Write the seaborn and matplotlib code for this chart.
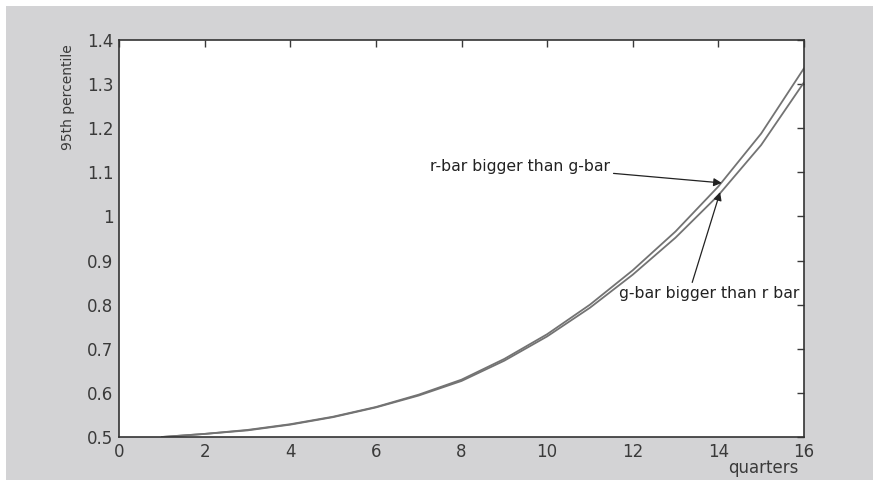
import numpy as np
import pandas as pd
import matplotlib
matplotlib.use("Agg")
import matplotlib.pyplot as plt
import seaborn as sns
from matplotlib.patches import Rectangle

quarters = [1, 2, 3, 4, 5, 6, 7, 8, 9, 10, 11, 12, 13, 14, 15, 16]
r_bar_bigger = [0.500, 0.507, 0.516, 0.529, 0.546, 0.568, 0.596, 0.630, 0.677,
                0.733, 0.800, 0.878, 0.966, 1.068, 1.188, 1.336]
g_bar_bigger = [0.500, 0.507, 0.515, 0.528, 0.545, 0.567, 0.594, 0.627, 0.673,
                0.728, 0.793, 0.868, 0.952, 1.048, 1.162, 1.304]
x_ticks = [0, 2, 4, 6, 8, 10, 12, 14, 16]
y_ticks = [0.5, 0.6, 0.7, 0.8, 0.9, 1.0, 1.1, 1.2, 1.3, 1.4]
y_tick_labels = ["0.5", "0.6", "0.7", "0.8", "0.9", "1", "1.1", "1.2", "1.3", "1.4"]

df = pd.DataFrame({
    "quarters": quarters * 2,
    "value": r_bar_bigger + g_bar_bigger,
    "series": ["r-bar bigger than g-bar"] * len(quarters) + ["g-bar bigger than r bar"] * len(quarters),
})

sns.set_style("white")
plt.rcParams["font.family"] = ["DejaVu Sans"]

W, H = 873, 483
fig = plt.figure(figsize=(W / 100, H / 100), dpi=100)
fig.patch.set_facecolor("white")
fig.patches.append(Rectangle((6 / W, 3 / H), (W - 6) / W, 474 / H,
                             transform=fig.transFigure, facecolor="#d3d3d5",
                             edgecolor="none", zorder=-10))

ax = fig.add_axes([119 / W, (H - 437) / H, (804 - 119) / W, (437 - 40) / H])
ax.set_facecolor("white")

sns.lineplot(data=df, x="quarters", y="value", hue="series",
             palette=["#737373", "#737373"], linewidth=1.3, legend=False, ax=ax)

ax.set_xlim(0, 16)
ax.set_ylim(0.5, 1.4)
ax.set_xticks(x_ticks)
ax.set_yticks(y_ticks)
ax.set_yticklabels(y_tick_labels)
ax.tick_params(direction="in", length=5, width=1, colors="#3a3a3a",
               labelsize=12, top=True, right=True, labeltop=False, labelright=False, pad=4)
for s in ax.spines.values():
    s.set_visible(True)
    s.set_color("#333333")
    s.set_linewidth(1.2)

ax.set_xlabel("quarters", fontsize=12, color="#3a3a3a")
ax.xaxis.set_label_coords(0.94, -0.055)
ax.set_ylabel("95th percentile", fontsize=10, color="#3a3a3a")
ax.yaxis.set_label_coords(-0.064, 0.855)

ax.annotate("r-bar bigger than g-bar", xy=(14.08, 1.076), xytext=(7.27, 1.114),
            fontsize=11.3, color="#222222", va="center", ha="left",
            arrowprops=dict(arrowstyle="-|>", color="#222222", lw=0.9,
                            shrinkA=0, shrinkB=0, mutation_scale=12,
                            relpos=(0.94, 0.1)))
ax.annotate("g-bar bigger than r bar", xy=(14.04, 1.055), xytext=(11.68, 0.826),
            fontsize=11.3, color="#222222", va="center", ha="left",
            arrowprops=dict(arrowstyle="-|>", color="#222222", lw=0.9,
                            shrinkA=0, shrinkB=0, mutation_scale=12,
                            relpos=(0.4, 1.0)))

fig.savefig("out.png", dpi=100, facecolor=fig.get_facecolor())
